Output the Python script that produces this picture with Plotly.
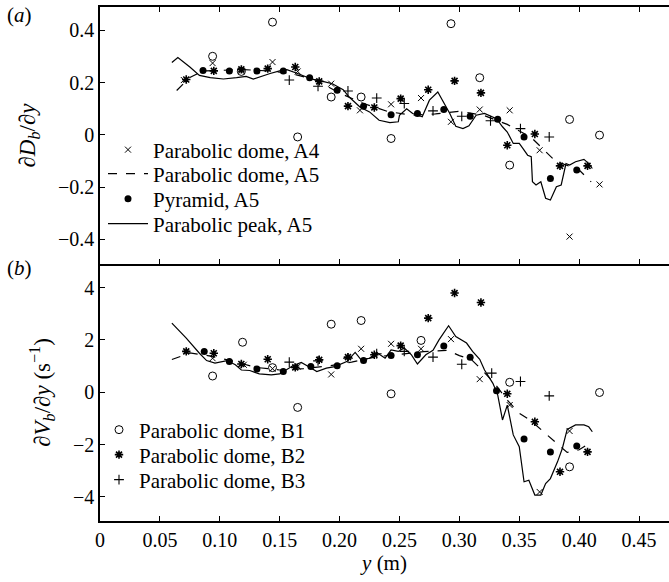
import plotly.graph_objects as go

# ---------------- data: panel (a) ----------------
a_peak_x = [0.060, 0.065, 0.075, 0.083, 0.092, 0.103, 0.114, 0.122, 0.128, 0.133, 0.142, 0.150, 0.156, 0.165, 0.176, 0.186, 0.194, 0.203, 0.208, 0.217, 0.225, 0.233, 0.242, 0.249, 0.250, 0.256, 0.261, 0.269, 0.275, 0.282, 0.286, 0.292, 0.297, 0.303, 0.308, 0.314, 0.321, 0.325, 0.331, 0.336, 0.340, 0.345, 0.350, 0.353, 0.357, 0.360, 0.361, 0.364, 0.368, 0.372, 0.376, 0.381, 0.385, 0.389, 0.392, 0.397, 0.404, 0.408, 0.411]
a_peak_y = [0.277, 0.296, 0.260, 0.228, 0.219, 0.214, 0.219, 0.224, 0.214, 0.222, 0.235, 0.245, 0.250, 0.235, 0.215, 0.205, 0.196, 0.173, 0.145, 0.107, 0.088, 0.056, 0.047, 0.050, 0.075, 0.100, 0.082, 0.069, 0.133, 0.164, 0.133, 0.082, 0.033, 0.024, 0.035, 0.075, 0.082, 0.075, 0.062, 0.031, 0.011, -0.033, -0.033, -0.052, -0.078, -0.084, -0.180, -0.192, -0.180, -0.243, -0.250, -0.199, -0.192, -0.110, -0.116, -0.103, -0.094, -0.110, -0.129]

a_dome5_x = [0.064, 0.075, 0.086, 0.100, 0.120, 0.140, 0.160, 0.180, 0.200, 0.220, 0.240, 0.260, 0.280, 0.300, 0.320, 0.340, 0.360, 0.380, 0.400, 0.410]
a_dome5_y = [0.170, 0.220, 0.245, 0.248, 0.250, 0.245, 0.235, 0.210, 0.160, 0.120, 0.090, 0.075, 0.080, 0.090, 0.075, 0.040, -0.010, -0.100, -0.135, -0.180]

a_dome4_x = [0.070, 0.094, 0.118, 0.144, 0.165, 0.193, 0.217, 0.243, 0.268, 0.293, 0.317, 0.342, 0.367, 0.392, 0.417]
a_dome4_y = [0.210, 0.275, 0.245, 0.279, 0.243, 0.196, 0.094, 0.117, 0.141, 0.050, 0.097, 0.094, -0.059, -0.390, -0.190]

a_pyr_x = [0.086, 0.108, 0.131, 0.153, 0.175, 0.198, 0.220, 0.243, 0.265, 0.287, 0.309, 0.332, 0.354, 0.376, 0.398]
a_pyr_y = [0.247, 0.245, 0.245, 0.245, 0.219, 0.171, 0.110, 0.077, 0.082, 0.097, 0.071, 0.060, -0.008, -0.167, -0.135]

a_circ_x = [0.094, 0.118, 0.144, 0.165, 0.193, 0.218, 0.243, 0.293, 0.317, 0.342, 0.392, 0.417]
a_circ_y = [0.301, 0.243, 0.432, -0.008, 0.145, 0.145, -0.014, 0.426, 0.219, -0.116, 0.059, -0.001]

a_star_x = [0.072, 0.095, 0.118, 0.140, 0.163, 0.183, 0.207, 0.229, 0.251, 0.274, 0.296, 0.318, 0.340, 0.363, 0.384, 0.407]
a_star_y = [0.212, 0.245, 0.251, 0.254, 0.260, 0.205, 0.110, 0.105, 0.139, 0.173, 0.207, 0.161, -0.040, 0.003, -0.119, -0.119]

a_plus_x = [0.158, 0.182, 0.207, 0.231, 0.254, 0.278, 0.302, 0.326, 0.351, 0.375]
a_plus_y = [0.210, 0.186, 0.168, 0.141, 0.120, 0.092, 0.071, 0.054, 0.024, -0.008]

# ---------------- data: panel (b) ----------------
b_peak_x = [0.060, 0.072, 0.083, 0.089, 0.096, 0.106, 0.113, 0.118, 0.125, 0.133, 0.143, 0.150, 0.161, 0.168, 0.174, 0.181, 0.189, 0.196, 0.206, 0.213, 0.218, 0.225, 0.231, 0.238, 0.243, 0.249, 0.254, 0.260, 0.265, 0.272, 0.278, 0.283, 0.291, 0.297, 0.306, 0.311, 0.317, 0.321, 0.328, 0.332, 0.336, 0.340, 0.345, 0.350, 0.354, 0.358, 0.363, 0.368, 0.372, 0.376, 0.382, 0.386, 0.390, 0.397, 0.404, 0.408, 0.411]
b_peak_y = [2.64, 2.07, 1.49, 1.21, 1.11, 1.21, 1.05, 0.85, 0.83, 0.70, 0.66, 0.70, 1.01, 1.14, 0.98, 0.79, 0.92, 0.98, 1.17, 1.52, 1.24, 1.30, 1.52, 1.30, 1.62, 1.56, 1.69, 1.43, 1.08, 1.43, 1.60, 2.00, 2.54, 2.13, 1.88, 1.56, 1.26, 0.85, 0.34, -0.10, -1.06, -0.49, -1.63, -2.08, -3.42, -3.36, -3.93, -3.93, -3.49, -3.30, -2.65, -2.14, -1.42, -1.25, -1.25, -1.32, -1.51]

b_dome5_x = [0.060, 0.075, 0.090, 0.110, 0.130, 0.150, 0.170, 0.190, 0.210, 0.230, 0.250, 0.270, 0.290, 0.300, 0.310, 0.320, 0.330, 0.340, 0.350, 0.360, 0.370, 0.380, 0.390, 0.400, 0.410]
b_dome5_y = [1.25, 1.50, 1.40, 1.20, 0.95, 0.85, 0.90, 1.00, 1.15, 1.35, 1.45, 1.55, 1.60, 1.40, 1.25, 0.80, 0.30, -0.30, -0.80, -1.10, -1.50, -1.90, -2.30, -2.20, -1.90]

b_dome4_x = [0.094, 0.120, 0.144, 0.165, 0.193, 0.218, 0.243, 0.268, 0.293, 0.317, 0.342, 0.367, 0.392]
b_dome4_y = [1.30, 1.05, 0.90, 0.98, 0.68, 1.66, 1.85, 1.66, 2.03, 0.50, -0.49, -3.81, -1.48]

b_pyr_x = [0.087, 0.108, 0.131, 0.153, 0.176, 0.198, 0.220, 0.243, 0.265, 0.287, 0.309, 0.331, 0.354, 0.376, 0.398]
b_pyr_y = [1.56, 1.17, 0.89, 0.79, 0.98, 1.01, 1.21, 1.40, 1.43, 1.77, 1.34, 0.06, -1.79, -2.28, -2.05]

b_circ_x = [0.094, 0.119, 0.144, 0.165, 0.193, 0.218, 0.243, 0.268, 0.342, 0.392, 0.417]
b_circ_y = [0.62, 1.91, 0.94, -0.58, 2.60, 2.74, -0.06, 1.98, 0.38, -2.85, -0.01]

b_star_x = [0.072, 0.095, 0.118, 0.140, 0.163, 0.183, 0.207, 0.229, 0.251, 0.274, 0.296, 0.318, 0.340, 0.363, 0.384, 0.407]
b_star_y = [1.56, 1.49, 1.08, 1.26, 0.95, 1.24, 1.34, 1.43, 1.78, 2.83, 3.79, 3.43, -0.06, -1.13, -3.04, -2.28]

b_plus_x = [0.158, 0.182, 0.207, 0.231, 0.254, 0.278, 0.302, 0.327, 0.351, 0.375]
b_plus_y = [1.15, 1.20, 1.30, 1.47, 1.56, 1.34, 1.07, 0.73, 0.41, -0.14]

x_ticks = [0, 0.05, 0.10, 0.15, 0.20, 0.25, 0.30, 0.35, 0.40, 0.45, 0.50]
x_ticklabels = ["0", "0.05", "0.10", "0.15", "0.20", "0.25", "0.30", "0.35", "0.40", "0.45", ""]
a_ticks = [-0.4, -0.2, 0, 0.2, 0.4]
b_ticks = [-4, -2, 0, 2, 4]

FONT = "Liberation Serif"
BLACK = "black"

# layout geometry (pixels)
W, H = 669, 582
ML, MR, MT, MB = 100, 0, 7, 61
PW = W - ML - MR
PH = H - MT - MB


def px_to_paper(px, py):
    return (px - ML) / PW, (H - MB - py) / PH


fig = go.Figure()


def line_trace(x, y, name, dash, xa, ya, legend, show):
    return go.Scatter(x=x, y=y, mode="lines", name=name, xaxis=xa, yaxis=ya,
                      line=dict(color=BLACK, width=1.2, dash=dash),
                      showlegend=show, legend=legend)


def mark_trace(x, y, name, symbol, size, lw, xa, ya, legend, show):
    return go.Scatter(x=x, y=y, mode="markers", name=name, xaxis=xa, yaxis=ya,
                      marker=dict(symbol=symbol, size=size, color=BLACK,
                                  line=dict(color=BLACK, width=lw)),
                      showlegend=show, legend=legend)


# panel (a)
fig.add_trace(mark_trace(a_circ_x, a_circ_y, "o", "circle-open", 8, 1, "x", "y", "legend", False))
fig.add_trace(mark_trace(a_star_x, a_star_y, "*", "asterisk-open", 7, 1.6, "x", "y", "legend", False))
fig.add_trace(mark_trace(a_plus_x, a_plus_y, "+", "cross-thin-open", 7, 1.1, "x", "y", "legend", False))
fig.add_trace(mark_trace(a_dome4_x, a_dome4_y, "Parabolic dome, A4", "x-thin-open", 6, 1.0, "x", "y", "legend", True))
fig.add_trace(line_trace(a_dome5_x, a_dome5_y, "Parabolic dome, A5", "dash", "x", "y", "legend2", True))
fig.add_trace(mark_trace(a_pyr_x, a_pyr_y, "Pyramid, A5", "circle", 7, 0, "x", "y", "legend3", True))
fig.add_trace(line_trace(a_peak_x, a_peak_y, "Parabolic peak, A5", "solid", "x", "y", "legend4", True))

# panel (b)
fig.add_trace(mark_trace(b_circ_x, b_circ_y, "Parabolic dome, B1", "circle-open", 8, 1, "x2", "y2", "legend5", True))
fig.add_trace(mark_trace(b_star_x, b_star_y, "Parabolic dome, B2", "asterisk-open", 7, 1.6, "x2", "y2", "legend6", True))
fig.add_trace(mark_trace(b_plus_x, b_plus_y, "Parabolic dome, B3", "cross-thin-open", 7, 1.1, "x2", "y2", "legend7", True))
fig.add_trace(mark_trace(b_dome4_x, b_dome4_y, "x", "x-thin-open", 6, 1.0, "x2", "y2", "legend", False))
fig.add_trace(line_trace(b_dome5_x, b_dome5_y, "--", "dash", "x2", "y2", "legend", False))
fig.add_trace(mark_trace(b_pyr_x, b_pyr_y, ".", "circle", 7, 0, "x2", "y2", "legend", False))
fig.add_trace(line_trace(b_peak_x, b_peak_y, "-", "solid", "x2", "y2", "legend", False))

axis_common = dict(showgrid=False, zeroline=False, showline=True, linecolor=BLACK,
                   linewidth=1.5, ticks="inside", ticklen=5, tickwidth=1, tickcolor=BLACK,
                   tickfont=dict(family=FONT, size=20, color=BLACK))

legend_font = dict(family=FONT, size=21, color=BLACK)


def legend_at(text_px, center_py, itemwidth=30):
    lx, ly = px_to_paper(text_px, center_py)
    return dict(x=lx, y=ly, xanchor="left", yanchor="middle", bgcolor="rgba(0,0,0,0)",
                font=legend_font, itemwidth=itemwidth, tracegroupgap=0)


fig.update_layout(
    width=W, height=H,
    margin=dict(l=ML, r=MR, t=MT, b=MB),
    paper_bgcolor="white", plot_bgcolor="white",
    font=dict(family=FONT, size=20, color=BLACK),
    xaxis=dict(axis_common, domain=[0, 1], anchor="y", range=[0, 0.475],
               tickvals=x_ticks, ticktext=x_ticklabels, showticklabels=False, mirror="ticks"),
    yaxis=dict(axis_common, domain=[0.5, 1], anchor="x", range=[-0.495, 0.49],
               tickvals=a_ticks,
               title=dict(text="∂<i>D</i><sub><i>b</i></sub>/∂<i>y</i>",
                          font=dict(family=FONT, size=23), standoff=16)),
    xaxis2=dict(axis_common, domain=[0, 1], anchor="y2", range=[0, 0.475],
                tickvals=x_ticks, ticktext=x_ticklabels,
                title=dict(text="<i>y</i> (m)", font=dict(family=FONT, size=21), standoff=6)),
    yaxis2=dict(axis_common, domain=[0, 0.5], anchor="x2", range=[-4.92, 4.9],
                tickvals=b_ticks,
                title=dict(text="∂<i>V</i><sub><i>b</i></sub>/∂<i>y</i> (s<sup>−1</sup>)",
                           font=dict(family=FONT, size=23), standoff=16)),
    legend=legend_at(ML + 3, 150, 40),
    legend2=legend_at(ML + 3, 174, 40),
    legend3=legend_at(ML + 3, 199, 40),
    legend4=legend_at(ML + 3, 224, 40),
    legend5=legend_at(ML - 1, 430),
    legend6=legend_at(ML - 1, 455),
    legend7=legend_at(ML - 1, 480),
)

ax, ay = px_to_paper(19, 15)
bx, by = px_to_paper(19, 268)
fig.update_layout(annotations=[
    dict(text="(<i>a</i>)", x=ax, y=ay, xref="paper", yref="paper", showarrow=False,
         xanchor="center", yanchor="middle", font=dict(family=FONT, size=21, color=BLACK)),
    dict(text="(<i>b</i>)", x=bx, y=by, xref="paper", yref="paper", showarrow=False,
         xanchor="center", yanchor="middle", font=dict(family=FONT, size=21, color=BLACK)),
])

fig.write_html("out.html")
